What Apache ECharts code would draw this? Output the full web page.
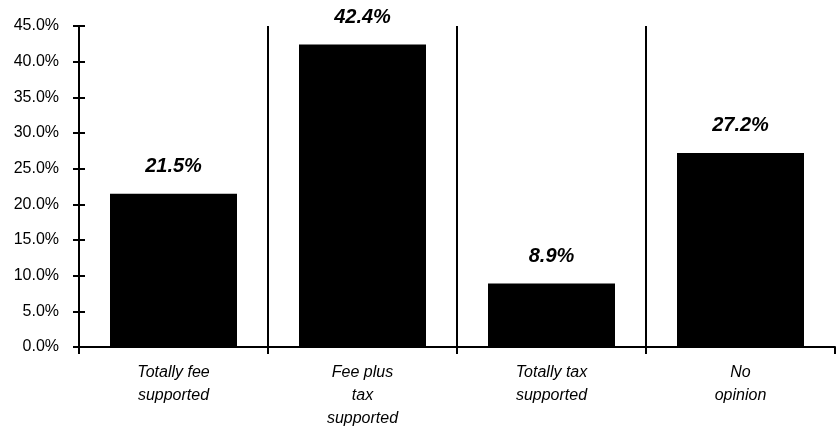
<!DOCTYPE html>
<html>
<head>
<meta charset="utf-8">
<script src="https://cdn.jsdelivr.net/npm/echarts@6/dist/echarts.min.js"></script>
<style>
  html, body { margin: 0; padding: 0; background: #fff; }
  #chart { width: 837px; height: 437px; }
</style>
</head>
<body>
<div id="chart"></div>
<script>
// Funding preference survey: share of respondents per option
const categories = ['Totally fee\nsupported', 'Fee plus\ntax\nsupported', 'Totally tax\nsupported', 'No\nopinion'];
const shares = [21.5, 42.4, 8.9, 27.2];
const yMin = 0, yMax = 45, yStep = 5;

const font = '"Liberation Sans", Arial, Helvetica, sans-serif';
const chart = echarts.init(document.getElementById('chart'));

chart.setOption({
  backgroundColor: '#ffffff',
  animation: false,
  grid: { left: 79, right: 2, top: 26, bottom: 90, containLabel: false },
  xAxis: {
    type: 'category',
    data: categories,
    boundaryGap: true,
    axisLine: { show: true, lineStyle: { color: '#000', width: 2 } },
    axisTick: { show: true, length: 7, lineStyle: { color: '#000', width: 2 } },
    splitLine: { show: true, showMinLine: false, showMaxLine: false, lineStyle: { color: '#000', width: 2 } },
    axisLabel: {
      color: '#000', fontFamily: font, fontSize: 16, fontStyle: 'italic',
      lineHeight: 23, margin: 14, interval: 0, align: 'center'
    }
  },
  yAxis: [
    {
      type: 'value',
      min: yMin, max: yMax, interval: yStep,
      axisLine: { show: true, lineStyle: { color: '#000', width: 2 } },
      axisTick: { show: true, length: 6, lineStyle: { color: '#000', width: 2 } },
      splitLine: { show: false },
      axisLabel: {
        color: '#000', fontFamily: font, fontSize: 16, margin: 20,
        formatter: v => v.toFixed(1) + '%'
      }
    },
    {
      // inner half of the cross ticks on the value axis
      type: 'value',
      position: 'left',
      min: yMin, max: yMax, interval: yStep,
      axisLine: { show: false },
      axisTick: { show: true, inside: true, length: 6, lineStyle: { color: '#000', width: 2 } },
      splitLine: { show: false },
      axisLabel: { show: false }
    }
  ],
  series: [{
    type: 'bar',
    data: shares,
    yAxisIndex: 0,
    barWidth: 127,
    itemStyle: { color: '#000' },
    label: {
      show: true, position: 'top', distance: 17,
      color: '#000', fontFamily: font, fontSize: 20,
      fontWeight: 'bold', fontStyle: 'italic',
      formatter: p => p.value.toFixed(1) + '%'
    }
  }]
});
</script>
</body>
</html>
